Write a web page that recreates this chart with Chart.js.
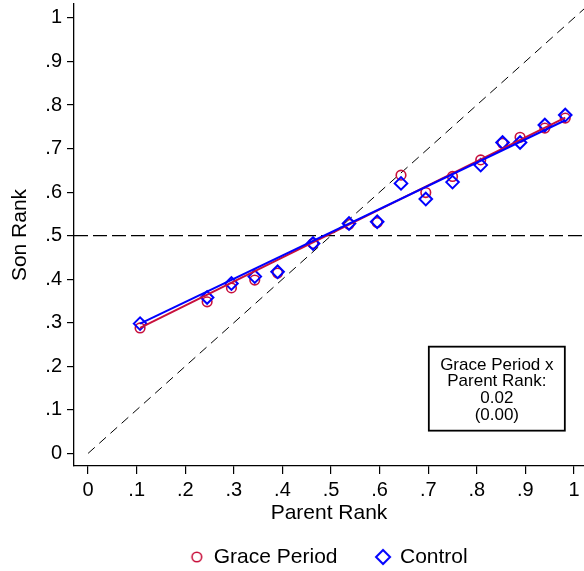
<!DOCTYPE html>
<html>
<head>
<meta charset="utf-8">
<script src="https://cdn.jsdelivr.net/npm/chart.js@4.4.1/dist/chart.umd.min.js"></script>
<style>
  html, body { margin: 0; padding: 0; background: #ffffff; }
  canvas { display: block; }
</style>
</head>
<body>
<canvas id="chart" width="584" height="571"></canvas>
<script>
// Binned parent rank (x) and mean son rank (y) for each group
const parentRank = [0.107, 0.245, 0.295, 0.343, 0.390, 0.463, 0.537, 0.595,
                    0.644, 0.695, 0.750, 0.808, 0.853, 0.889, 0.940, 0.982];
const graceSon   = [0.288, 0.348, 0.380, 0.398, 0.414, 0.482, 0.526, 0.530,
                    0.639, 0.599, 0.636, 0.674, 0.712, 0.726, 0.747, 0.770];
const controlSon = [0.298, 0.358, 0.390, 0.406, 0.417, 0.482, 0.528, 0.532,
                    0.620, 0.584, 0.623, 0.662, 0.714, 0.714, 0.754, 0.777];

// Linear fit end points for each group
const fitX       = [0.107, 0.982];
const graceFit   = [0.288, 0.771];
const controlFit = [0.298, 0.765];

// Reference lines: 45-degree line and the median son rank
const diagonalX = [0, 1.0206];
const medianRank = 0.5;

// Axis ticks and ranges
const tickValues = [0, 0.1, 0.2, 0.3, 0.4, 0.5, 0.6, 0.7, 0.8, 0.9, 1];
const xRange = [-0.029, 1.0206];
const yRange = [-0.029, 1.032];

const seriesNames = ['Grace Period', 'Control'];
const coefText = ['Grace Period x', 'Parent Rank:', '0.02', '(0.00)'];
const coefAnchor = [0.8412, 0.1486];

const RED = '#c8103c';
const BLUE = '#0000ff';
const FONT = "'Liberation Sans', Arial, Helvetica, sans-serif";

const pts = (xs, ys) => xs.map((x, i) => ({ x: x, y: ys[i] }));
const tickLabel = v => {
  if (Math.abs(v) < 1e-9) return '0';
  if (Math.abs(v - 1) < 1e-9) return '1';
  return '.' + Math.round(v * 10);
};

// Small marker images used by the legend
function markerImage(kind, color) {
  const c = document.createElement('canvas');
  c.width = 20; c.height = 20;
  const g = c.getContext('2d');
  g.strokeStyle = color;
  g.beginPath();
  if (kind === 'circle') {
    g.lineWidth = 1.6;
    g.arc(10, 10, 4.8, 0, Math.PI * 2);
  } else {
    g.lineWidth = 2;
    g.moveTo(10, 3); g.lineTo(17, 10); g.lineTo(10, 17); g.lineTo(3, 10); g.closePath();
  }
  g.stroke();
  return c;
}
const legendMarks = [markerImage('circle', RED), markerImage('diamond', BLUE)];

// Boxed coefficient note inside the plot
const coefBox = {
  id: 'coefBox',
  afterDatasetsDraw(chart) {
    const { ctx, scales } = chart;
    const cx = scales.x.getPixelForValue(coefAnchor[0]);
    const cy = scales.y.getPixelForValue(coefAnchor[1]);
    const w = 136, h = 84;
    ctx.save();
    ctx.fillStyle = '#ffffff';
    ctx.fillRect(cx - w / 2, cy - h / 2, w, h);
    ctx.strokeStyle = '#000000';
    ctx.lineWidth = 1.8;
    ctx.strokeRect(cx - w / 2, cy - h / 2, w, h);
    ctx.fillStyle = '#000000';
    ctx.font = '17px ' + FONT;
    ctx.textAlign = 'center';
    ctx.textBaseline = 'middle';
    coefText.forEach((t, i) => {
      ctx.fillText(t, cx, cy + 1.5 + (i - (coefText.length - 1) / 2) * 16.8);
    });
    ctx.restore();
  }
};

function axis(title, isX) {
  return {
    type: 'linear',
    min: isX ? xRange[0] : yRange[0],
    max: isX ? xRange[1] : yRange[1],
    afterBuildTicks: s => { s.ticks = tickValues.map(v => ({ value: v })); },
    afterFit: s => {
      // the end ticks sit inside the range, so no extra room is needed for their labels
      s.paddingLeft = 0; s.paddingRight = 0; s.paddingTop = 0; s.paddingBottom = 0;
      if (isX) { s.height = 41.5; } else { s.width = 74; }
    },
    ticks: {
      callback: v => tickLabel(v),
      autoSkip: false,
      maxRotation: 0,
      color: '#000000',
      padding: isX ? 4 : 5,
      font: { family: FONT, size: 20 }
    },
    grid: {
      display: true,
      drawOnChartArea: false,
      drawTicks: true,
      tickLength: isX ? 8 : 7,
      color: '#000000',
      lineWidth: 1.2
    },
    border: { display: true, color: '#000000', width: 1.3 },
    title: {
      display: true,
      text: title,
      color: '#000000',
      font: { family: FONT, size: 21 },
      padding: isX ? { top: 0, bottom: -18 } : { top: 8, bottom: 0 }
    }
  };
}

new Chart(document.getElementById('chart'), {
  type: 'scatter',
  data: {
    datasets: [
      {
        label: seriesNames[0] + ' fit',
        data: pts(fitX, graceFit),
        showLine: true,
        borderColor: RED,
        borderWidth: 2,
        pointRadius: 0,
        order: 1
      },
      {
        label: seriesNames[1] + ' fit',
        data: pts(fitX, controlFit),
        showLine: true,
        borderColor: BLUE,
        borderWidth: 2,
        pointRadius: 0,
        order: 0
      },
      {
        label: seriesNames[0],
        data: pts(parentRank, graceSon),
        pointStyle: 'circle',
        pointRadius: 4.8,
        pointHoverRadius: 4.8,
        borderColor: RED,
        backgroundColor: 'rgba(0,0,0,0)',
        pointBorderWidth: 1.6,
        order: 3
      },
      {
        label: seriesNames[1],
        data: pts(parentRank, controlSon),
        pointStyle: 'rectRot',
        pointRadius: 6.3,
        pointHoverRadius: 6.3,
        borderColor: BLUE,
        backgroundColor: 'rgba(0,0,0,0)',
        pointBorderWidth: 2,
        order: 2
      },
      {
        label: '45-degree line',
        data: pts(diagonalX, diagonalX),
        showLine: true,
        borderColor: '#000000',
        borderWidth: 1,
        borderDash: [9, 6],
        pointRadius: 0,
        order: 4
      },
      {
        label: 'Median',
        data: pts(xRange, [medianRank, medianRank]),
        showLine: true,
        borderColor: '#000000',
        borderWidth: 1.3,
        borderDash: [14, 5],
        pointRadius: 0,
        order: 5
      }
    ]
  },
  options: {
    responsive: false,
    animation: false,
    events: [],
    layout: { autoPadding: false, padding: { top: 4, left: 0, right: 0, bottom: 0 } },
    scales: {
      x: axis('Parent Rank', true),
      y: axis('Son Rank', false)
    },
    plugins: {
      tooltip: { enabled: false },
      legend: {
        position: 'bottom',
        fullSize: false,
        maxHeight: 63.5,
        labels: {
          usePointStyle: true,
          pointStyleWidth: 13,
          padding: 39,
          color: '#000000',
          font: { family: FONT, size: 21 },
          generateLabels: () => seriesNames.map((name, i) => ({
            text: name,
            pointStyle: legendMarks[i],
            fillStyle: 'rgba(0,0,0,0)',
            strokeStyle: i === 0 ? RED : BLUE,
            lineWidth: 0,
            hidden: false,
            fontColor: '#000000',
            datasetIndex: i + 2
          }))
        }
      }
    }
  },
  plugins: [coefBox]
});
</script>
</body>
</html>
